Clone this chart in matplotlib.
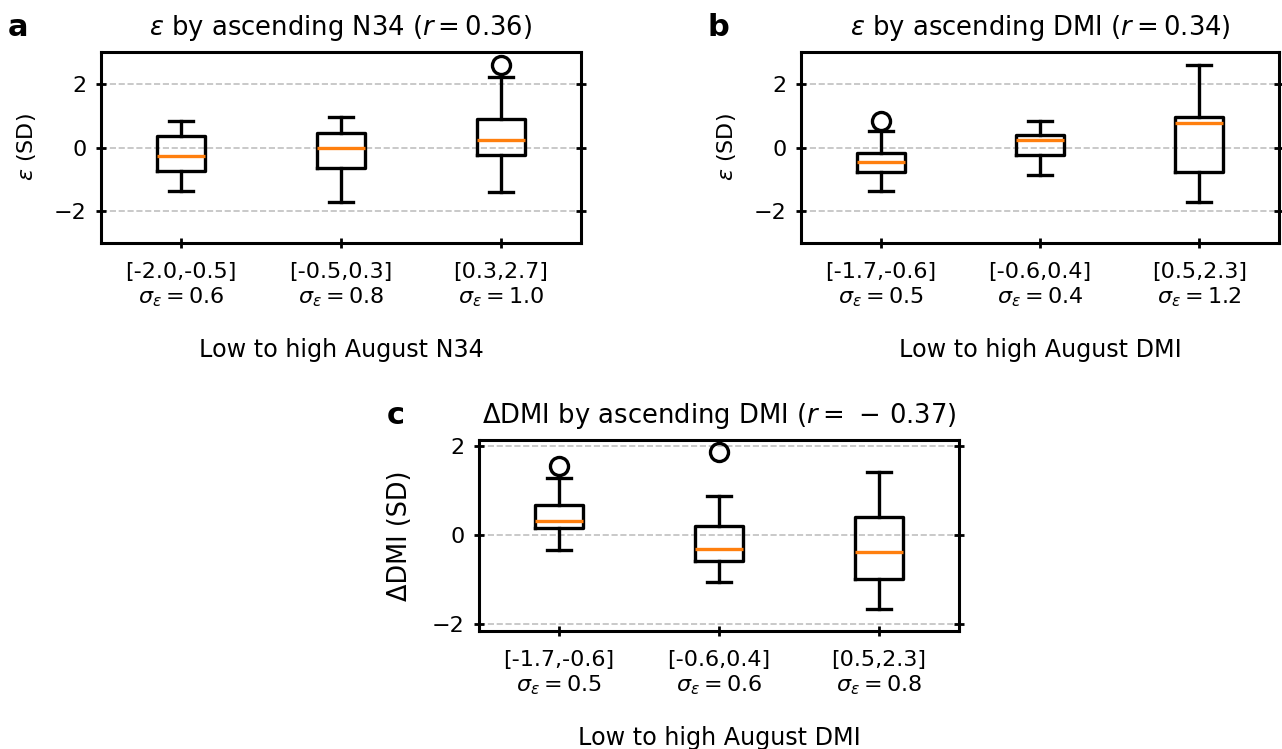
import matplotlib
matplotlib.use('Agg')
import matplotlib.pyplot as plt

plt.rcParams['font.family'] = ['DejaVu Sans']
plt.rcParams['font.size'] = 8
plt.rcParams['mathtext.fontset'] = 'dejavusans'

# ---------------- data ----------------
# Panel a: epsilon by ascending N34
cats_a = ['[-2.0,-0.5]', '[-0.5,0.3]', '[0.3,2.7]']
sigma_a = [0.6, 0.8, 1.0]
whislo_a = [-1.36, -1.72, -1.40]
q1_a = [-0.73, -0.63, -0.24]
med_a = [-0.26, -0.01, 0.24]
q3_a = [0.36, 0.47, 0.89]
whishi_a = [0.84, 0.97, 2.22]
fliers_a = [[], [], [2.60]]

# Panel b: epsilon by ascending DMI
cats_b = ['[-1.7,-0.6]', '[-0.6,0.4]', '[0.5,2.3]']
sigma_b = [0.5, 0.4, 1.2]
whislo_b = [-1.36, -0.87, -1.72]
q1_b = [-0.76, -0.22, -0.76]
med_b = [-0.46, 0.23, 0.76]
q3_b = [-0.17, 0.40, 0.97]
whishi_b = [0.52, 0.84, 2.60]
fliers_b = [[0.82], [], []]

# Panel c: Delta DMI by ascending DMI
cats_c = ['[-1.7,-0.6]', '[-0.6,0.4]', '[0.5,2.3]']
sigma_c = [0.5, 0.6, 0.8]
whislo_c = [-0.34, -1.06, -1.66]
q1_c = [0.16, -0.58, -0.99]
med_c = [0.31, -0.31, -0.38]
q3_c = [0.67, 0.19, 0.40]
whishi_c = [1.27, 0.87, 1.42]
fliers_c = [[1.54], [1.85], []]

titles = [r'$\varepsilon$ by ascending N34 ($r=0.36$)',
          r'$\varepsilon$ by ascending DMI ($r=0.34$)',
          r'$\Delta$DMI by ascending DMI ($r=\,-\,0.37$)']
ylabels = [r'$\varepsilon$ (SD)', r'$\varepsilon$ (SD)', 'ΔDMI (SD)']
ylabel_sizes = [8, 8, 9.2]
xlabels = ['Low to high August N34', 'Low to high August DMI', 'Low to high August DMI']
letters = ['a', 'b', 'c']
ylims = [(-3, 3), (-3, 3), (-2.16, 2.13)]

panels = [
    (cats_a, sigma_a, whislo_a, q1_a, med_a, q3_a, whishi_a, fliers_a),
    (cats_b, sigma_b, whislo_b, q1_b, med_b, q3_b, whishi_b, fliers_b),
    (cats_c, sigma_c, whislo_c, q1_c, med_c, q3_c, whishi_c, fliers_c),
]

W, H = 1282, 749
fig = plt.figure(figsize=(W / 200, H / 200), dpi=200)

rects = [
    [101 / W, 1 - 243 / H, 480 / W, 191 / H],
    [801 / W, 1 - 243 / H, 478 / W, 191 / H],
    [479 / W, 1 - 631 / H, 480 / W, 191 / H],
]
letter_pos = [(8 / W, 1 - 27 / H), (708 / W, 1 - 27 / H), (387 / W, 1 - 416 / H)]
ylabel_x = [38, 738, 413]

for i, (p, rect) in enumerate(zip(panels, rects)):
    cats, sig, wlo, q1, med, q3, whi, fl = p
    ax = fig.add_axes(rect)
    stats = []
    for j in range(len(cats)):
        stats.append(dict(med=med[j], q1=q1[j], q3=q3[j],
                          whislo=wlo[j], whishi=whi[j], fliers=fl[j]))
    ax.bxp(stats, positions=[1, 2, 3],
           boxprops=dict(linewidth=1.2, color='black'),
           whiskerprops=dict(linewidth=1.2, color='black'),
           capprops=dict(linewidth=1.2, color='black'),
           medianprops=dict(linewidth=1.2, color='#ff7f0e'),
           flierprops=dict(marker='o', markersize=6.5, markerfacecolor='none',
                           markeredgecolor='black', markeredgewidth=1.2))
    ax.set_xlim(0.5, 3.5)
    ax.set_ylim(*ylims[i])
    ax.set_yticks([-2, 0, 2])
    ax.set_xticks([1, 2, 3])
    ax.set_xticklabels([f'{c}\n$\\sigma_\\varepsilon = {s:.1f}$' for c, s in zip(cats, sig)])
    ax.yaxis.grid(True, linestyle='--', color='#c0c0c0', linewidth=0.6)
    ax.set_axisbelow(True)
    for sp in ax.spines.values():
        sp.set_linewidth(1.1)
    ax.tick_params(axis='both', direction='inout', length=3.6, width=1.0,
                   right=True, labelsize=8)
    ax.tick_params(axis='x', pad=5)
    ax.set_title(titles[i], fontsize=9.3, pad=6)
    ax.set_ylabel(ylabels[i], fontsize=ylabel_sizes[i])
    ax.yaxis.set_label_coords((ylabel_x[i] - rect[0] * W) / (rect[2] * W), 0.5)
    ax.set_xlabel(xlabels[i], fontsize=8.6, labelpad=10.5)
    fig.text(letter_pos[i][0], letter_pos[i][1], letters[i], fontsize=11,
             fontweight='bold', va='center', ha='left')

fig.savefig('out.png', dpi=200)
